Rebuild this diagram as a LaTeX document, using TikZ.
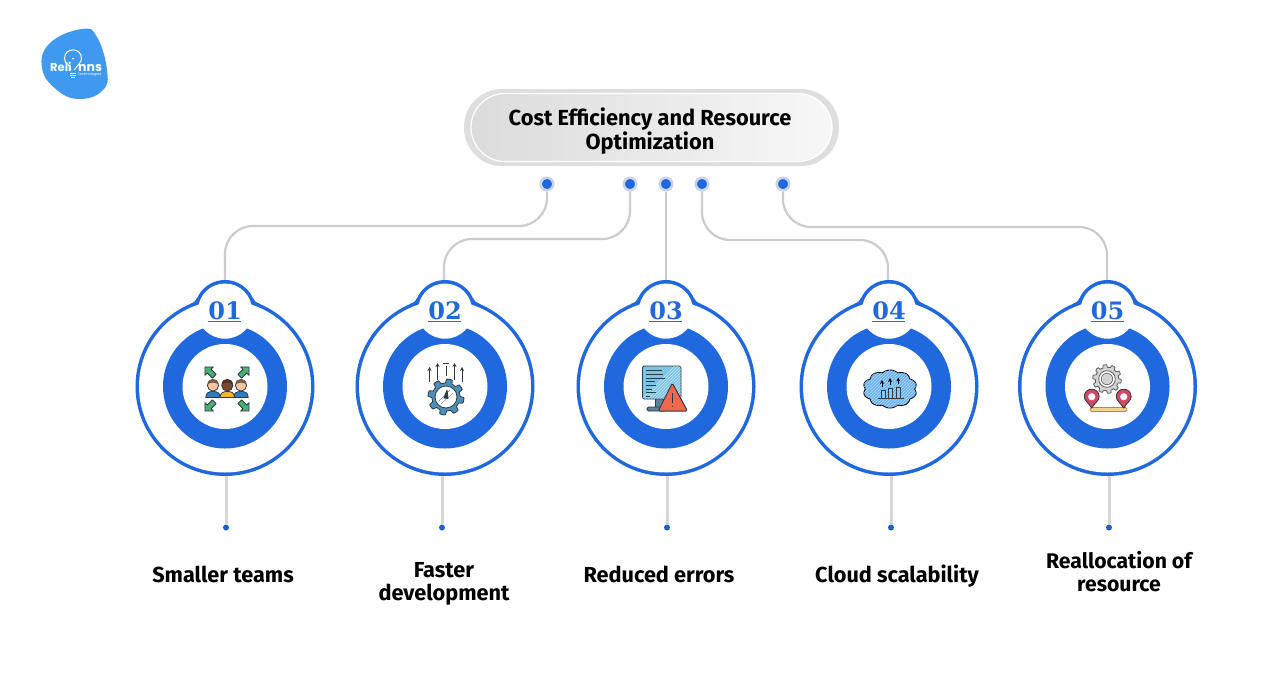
\documentclass[tikz,border=0pt]{standalone}
\usepackage{fontspec}
\setmainfont{Fira Sans}
\newfontfamily\slabfont{DejaVu Serif}
\newfontfamily\logofont{Poppins}
\usetikzlibrary{calc,arrows.meta}
\definecolor{mainblue}{HTML}{2068DE}
\definecolor{linegray}{HTML}{CCCCCC}
\definecolor{tailgray}{HTML}{D6D6D6}
\definecolor{halo}{HTML}{C9D3E6}
\definecolor{logoblue}{HTML}{3F99EE}
\definecolor{darkline}{HTML}{2B3A44}
\definecolor{arrgreen}{HTML}{4CB070}
\definecolor{pinred}{HTML}{CF4A60}
\definecolor{shirtblue}{HTML}{2C7DBE}
\definecolor{shirtyellow}{HTML}{F2B632}
\definecolor{gearblue}{HTML}{4F8FB5}
\definecolor{monblue}{HTML}{7CC4E6}
\definecolor{standblue}{HTML}{5E7F96}
\definecolor{warnred}{HTML}{F0674E}
\definecolor{cloudblue}{HTML}{66B2F2}
\definecolor{barblue}{HTML}{8CC6F5}
\definecolor{gearlight}{HTML}{D4D4D4}
\definecolor{gearline}{HTML}{5A5A5A}
\definecolor{barsand}{HTML}{F2D48F}
\definecolor{barline}{HTML}{B48A3C}
\newcommand{\gearshape}[3]{plot[domain=0:360,samples=241] ({(#1+#2*max(-1,min(1,3*sin(#3*\x))))*cos(\x)},{(#1+#2*max(-1,min(1,3*sin(#3*\x))))*sin(\x)}) -- cycle}
\newcommand{\cloudshape}{plot[domain=0:360,samples=181] ({(24.5+2.5*abs(sin(5*\x)))*cos(\x)},{(17+2*abs(sin(5*\x)))*sin(\x)}) -- cycle}
% diagonal white scribble lines over the current clip; first x, second x, last x, y-bottom, rise
\newcommand{\hatchlines}[5]{\foreach \hx in {#1,#2,...,#3}{\draw[white,opacity=.55,line width=0.5pt] (\hx,#4) -- ++(#5,-#5);}}
\tikzset{
  outerdisc/.style={circle,fill=mainblue,minimum size=179pt,inner sep=0pt},
  bumpdisc/.style={circle,fill=mainblue,minimum size=61pt,inner sep=0pt},
  numtext/.style={text=mainblue,font=\slabfont\bfseries\fontsize{24}{26}\selectfont,inner sep=0pt},
  conn/.style={draw=linegray,line width=2.2pt,rounded corners=28pt},
  tail/.style={draw=tailgray,line width=3pt},
  topdot/.style={circle,fill=mainblue,draw=halo,line width=2.5pt,minimum size=12.5pt,inner sep=0pt},
  enddot/.style={circle,fill=mainblue!90!black,minimum size=6pt,inner sep=0pt},
  lab/.style={align=center,font=\bfseries\fontsize{21.7}{23}\selectfont,inner sep=0pt,text=black},
  ico/.style={draw=darkline,line width=0.8pt,line join=round},
  arrline/.style={draw=darkline,line width=1pt,-{Stealth[length=4pt,width=4pt]}},
  greenarr/.pic={\draw[ico,fill=arrgreen] (0,-6) -- (5,-1) -- (2.2,-1) -- (2.2,5) -- (-2.2,5) -- (-2.2,-1) -- (-5,-1) -- cycle;},
  mappin/.pic={
    \draw[ico,fill=pinred] (0,11.5) .. controls (-3,6) and (-7.5,4) .. (-7.5,0) .. controls (-7.5,-10) and (7.5,-10) .. (7.5,0) .. controls (7.5,4) and (3,6) .. (0,11.5) -- cycle;
    \fill[white] (0,0) circle (3.6pt);},
  person/.pic={
    \draw[ico,fill=#1] (-7.2,12) .. controls (-7.2,7) and (-4,6) .. (0,6) .. controls (4,6) and (7.2,7) .. (7.2,12) -- cycle;}
}
\begin{document}
\begin{tikzpicture}[x=1pt,y=-1pt]
\useasboundingbox (0,0) rectangle (1288,686);
\fill[white] (0,0) rectangle (1288,686);

% logo
\fill[logoblue] plot[smooth cycle,tension=.75] coordinates {(82,29) (97,37) (107,70) (103,90) (80,99) (57,90) (42,68) (50,43)};
\draw[white,line width=1pt] (71,70) .. controls (70,64) and (64.5,64) .. (64.5,58.5) .. controls (64.5,47) and (81.5,47) .. (81.5,58.5) .. controls (81.5,63) and (77,65) .. (74.5,70);
\fill[white] (73,58.5) circle (1pt);
\draw[white,line width=0.9pt] (70,73) -- (76,73) (70,75) -- (76,75) (71,77) -- (75,77);
\node[text=white,font=\logofont\bfseries\fontsize{11.5}{12}\selectfont,inner sep=0pt,anchor=base west] (logoa) at (50,71) {Reli};
\node[text=white,font=\logofont\bfseries\fontsize{12.5}{13}\selectfont,inner sep=0pt,anchor=base west] (logob) at (78,71) {nns};
\node[text=white,font=\logofont\fontsize{3.6}{4}\selectfont,inner sep=0pt,anchor=base west] (logoc) at (77.5,75.5) {Technologies};

% title
\node[fill=gray!26,rounded corners=38pt,minimum width=375pt,minimum height=77pt,inner sep=0pt] (pill) at (651.5,127.5) {};
\node[draw=white,line width=1.2pt,left color=gray!28,right color=gray!6,rounded corners=34pt,minimum width=361pt,minimum height=68pt,inner sep=0pt] (pillinner) at (pill.center) {};
\node[lab,font=\bfseries\fontsize{21.8}{23.5}\selectfont] (titletext) at (650,131) {Cost Efficiency and Resource\\Optimization};

% circles
\foreach \n/\cx/\t in {1/225/01,2/445/02,3/666/03,4/889/04,5/1107.5/05}{
  \node[outerdisc] (c\n) at (\cx,386.5) {};
  \node[bumpdisc] (b\n) at (\cx,310.5) {};
  \begin{scope}[shift={(\cx,0)}]
    \fill[mainblue] (-35,304.1) .. controls (-32,303) and (-29.5,301.5) .. (-28,298) -- (-26,303) -- cycle;
    \fill[mainblue] (35,304.1) .. controls (32,303) and (29.5,301.5) .. (28,298) -- (26,303) -- cycle;
  \end{scope}
  \node[circle,fill=white,minimum size=172pt,inner sep=0pt] (cw\n) at (c\n.center) {};
  \node[circle,fill=white,minimum size=54pt,inner sep=0pt] (bw\n) at (b\n.center) {};
  \node[circle,fill=mainblue,minimum size=124pt,inner sep=0pt] (ring\n) at (c\n.center) {};
  \node[circle,fill=white,minimum size=85pt,inner sep=0pt] (core\n) at (c\n.center) {};
  \begin{scope}
    \clip (c\n.center) circle (86pt);
    \fill[white] (b\n.center) circle (28.2pt);
  \end{scope}
  \node[numtext] (num\n) at (\cx,311) {\t};
  \draw[mainblue,line width=1.3pt] ($(num\n.center)+(-17,10.7)$) -- ($(num\n.center)+(16,10.7)$);
}
% top dots and connectors
\foreach \n/\dx in {1/547,2/630,3/666,4/702,5/783}{
  \node[topdot] (d\n) at (\dx,184) {};
}
\coordinate (t1) at (225,226);
\coordinate (t2) at (444,239);
\coordinate (t4) at (888,240);
\coordinate (t5) at (1107,227);
\draw[conn] (d1.south) |- (t1) -- (b1.north -| t1);
\draw[conn] (d2.south) |- (t2) -- (b2.north -| t2);
\draw[conn] (d3.south) -- (b3.north -| d3);
\draw[conn] (d4.south) |- (t4) -- (b4.north -| t4);
\draw[conn] (d5.south) |- (t5) -- (b5.north -| t5);

% tails
\foreach \n/\ex in {1/226,2/442,3/667,4/891,5/1109}{
  \node[enddot] (e\n) at (\ex,527.5) {};
  \draw[tail] (e\n |- c\n.south) -- (e\n.north);
}

% labels
\node[lab] (l1) at (223,574) {Smaller teams};
\node[lab] (l2) at (444,583.5) {Faster\\development};
\node[lab] (l3) at (659,574) {Reduced errors};
\node[lab] (l4) at (897,576) {Cloud scalability};
\node[lab,font=\bfseries\fontsize{21.2}{23}\selectfont] (l5) at (1119,572) {Reallocation of\\resource};

% icon 1
\foreach \px/\col/\sk/\hr in {213/shirtblue/F4C5A0/7A5A48,241/shirtblue/F4C5A0/7A5A48,227.3/shirtyellow/7B4A2E/4A3228}{
  \definecolor{sk}{HTML}{\sk}\definecolor{hr}{HTML}{\hr}
  \path (\px,385.5) pic {person=\col};
  \draw[ico,fill=sk] (\px,385.5) circle (5.6pt);
  \fill[hr] (\px-5.6,384.5) .. controls (\px-5.6,377) and (\px+5.6,377) .. (\px+5.6,384.5) .. controls (\px+2,382) and (\px-2,382) .. (\px-5.6,384.5) -- cycle;
}
\path (210,372) pic[rotate=45,scale=1.2] {greenarr};
\path (244,372) pic[rotate=-45,scale=1.2] {greenarr};
\path (210,406) pic[rotate=135,scale=1.2] {greenarr};
\path (244,406) pic[rotate=-135,scale=1.2] {greenarr};

% icon 2
\begin{scope}[shift={(446,397)}]
\draw[ico,fill=gearblue] \gearshape{16}{2}{8};
\draw[ico,fill=white] (0,0) circle (11pt);
\draw[darkline!60,line width=0.4pt] (-7,4) -- (4,-7) (-5,7) -- (7,-4);
\draw[ico,fill=darkline] (-2,1) -- (1,-7) -- (2,1.5) -- cycle;
\end{scope}
\draw[arrline] (429.5,382) -- (429.5,367);
\draw[arrline] (437.5,380) -- (437.5,363);
\draw[arrline] (454.5,380) -- (454.5,363);
\draw[arrline] (462,382) -- (462,367);
\draw[darkline,line width=1pt] (446,376) -- (446,366);
\draw[darkline,line width=1pt] (443,363) -- (449,363);

% icon 3
\draw[ico,fill=standblue] (655,398) rectangle (663,408);
\draw[ico,fill=standblue,rounded corners=1.5pt] (647,407) rectangle (666,411);
\draw[ico,fill=monblue,rounded corners=2pt] (642.5,366) rectangle (681,399);
\begin{scope}
\clip (643,366.5) rectangle (680.5,398.5);
\hatchlines{642}{645}{680}{399}{33}
\end{scope}
\foreach \ly/\lx in {370.5/662,374/663,378/665,381.5/655,385/656,389/652,392.5/656,396/650}{
  \draw[darkline,line width=0.7pt] (646,\ly) -- (\lx,\ly);
}
\draw[ico,line width=1pt,fill=warnred,rounded corners=1.5pt] (672.3,383) -- (687.5,411) -- (658.3,411) -- cycle;
\draw[darkline,line width=1pt] (672.3,393) -- (672.3,403) (672.3,405.5) -- (672.3,407);

% icon 4
\begin{scope}[shift={(890,389)}]
\draw[draw=black,line width=0.9pt,line join=round,fill=cloudblue] \cloudshape;
\begin{scope}
\clip \cloudshape;
\hatchlines{-50}{-47}{25}{19}{38}
\end{scope}
\end{scope}
\draw[ico,fill=barblue] (881,390) rectangle (885,398.5);
\draw[ico,fill=barblue] (888.5,388) rectangle (892.5,398.5);
\draw[ico,fill=barblue] (896.5,387) rectangle (900.5,398.5);
\draw[ico] (877.5,398.5) -- (903.5,398.5);
\draw[arrline,draw=black] (882,386.5) -- (882,380);
\draw[arrline,draw=black] (890,384.5) -- (890,378);
\draw[arrline,draw=black] (898.3,384) -- (898.3,377.5);

% icon 5
\begin{scope}[shift={(1107,379)}]
\draw[draw=gearline,line width=0.8pt,line join=round,fill=gearlight] \gearshape{13}{1.3}{10};
\draw[draw=gearline,line width=0.8pt,fill=white] (0,0) circle (8.3pt);
\draw[draw=gearline,line width=0.6pt,fill=gearlight] (0,0) circle (5.7pt);
\end{scope}
\draw[draw=barline,line width=0.7pt,fill=barsand,rounded corners=1.5pt] (1090,407.5) rectangle (1127,411.5);
\path (1091.7,396.7) pic {mappin};
\path (1123.7,396.7) pic {mappin};
\end{tikzpicture}
\end{document}
